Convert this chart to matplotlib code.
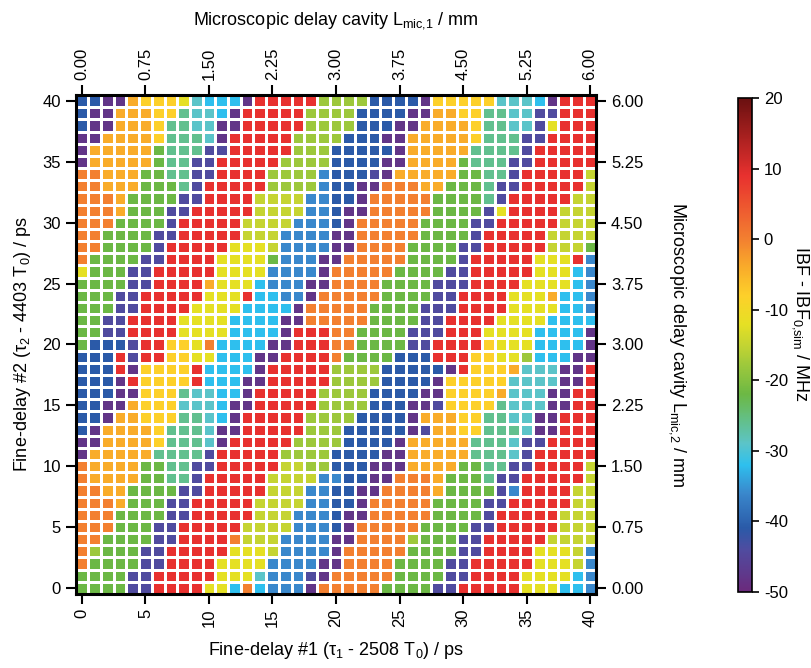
import numpy as np
import matplotlib.pyplot as plt
from matplotlib.colors import LinearSegmentedColormap, Normalize

plt.rcParams['font.family'] = ['Liberation Sans', 'DejaVu Sans']
plt.rcParams['mathtext.fontset'] = 'custom'
plt.rcParams['mathtext.rm'] = 'Liberation Sans'
plt.rcParams['mathtext.it'] = 'Liberation Sans:italic'
plt.rcParams['axes.unicode_minus'] = False

# =========================
# DATA
# =========================

# fine delay steps (ps)
tau1 = np.arange(0, 41)
tau2 = np.arange(0, 41)

# colour class -> IBF - IBF0,sim (MHz)
levels = {
    "P": -48, "V": -44, "B": -41, "M": -36, "C": -32, "T": -29, "Q": -26,
    "G": -22, "L": -18, "Y": -15, "E": -12, "Z": -8, "A": -4, "O": 0, "R": 9,
}

# one string per row, tau2 = 40 at the top down to tau2 = 0, columns tau1 = 0..40
rows = [
    "BBPPAZZZETCCCPRRRRRLLLLBBBBPZZZZZTTTCPRRR",
    "BPPAAAZZQTTCPRRRRRLLLLBBBBPPAAZZQQTTVVRRR",
    "BPPAAAZQQTTPPRRRRRLLLLBBBPPAAAAZQQTTVERRR",
    "PPAAAAZQQQTPRRRRRLLLLBBBPPAAAAAZQQQVVRRRR",
    "PAAAAAGQQQVVRRRRRLLLBBBBBPAAAAAQQQQVRRRRR",
    "PAAAAAGQQVVRRRRRLLLLBBBBPPAAAAGQQQVVRRRRR",
    "OOAAAGGQQVVRRRRLLLLMBBBVPAAAAAGGQQVRRRRRY",
    "OOAAAGGGQVRRRRRLLLLMBBPPOOOAAGGGQVVRRRRRY",
    "OOOAGGGGVVRRRRYYYYMMBBPOOOOOGGGGQVRRRRRYY",
    "OOOAGGGVVRRRRRYYYYMMBPPOOOOOGGGGVERRRRYYY",
    "OOOGGGGVRRRRRYYYYMMMBPOOOOOGGGGVVRRRRRYYY",
    "OOGGGGVVRRRRRYYYMMMMPPOOOOOGGGGVRRRRRYYYY",
    "OOGGGGVRRRRREEEYMMMMPPOOOOGGGGVVRRRRRYYYG",
    "OGGGGVVRRRREEEEGMMMPPOOOOOGGGGVRRRRREEERM",
    "EGGGVVRRRRREEEEMMMMPOOOOOGGGGVVRRRRREEECM",
    "GGGGVVRRRRAEEECMMMPPOOOOGGGGVVVRRRREEEECM",
    "GGGVVRRRRREEERCCMMPOOOOOGGGGVVRRRREEEACCM",
    "GGGVVRRRREEEECCCCPOOOOOGGGGVVVRRRREEEECCM",
    "GGVVRRRREEEECCCCPPOOOOOGGGGVVRRRREEEECCCC",
    "GGVVRRRREEEECCCCPRRROOGGGGVVVRRREEEECCCCP",
    "GBBBVRRZZEOCCCCPPRRROOGGGGVVRRRRZEEECCCCP",
    "BBBRVRRZZEECCCPPRRRROGGGGBBBRRRZZEELCCCPP",
    "BBBRPZZZZRCCCCPRRRRRLLLLBBBBBPRZZZATTTPPR",
    "BBBPRZZZZRCCCPPRRRRRLLLLBBBBPZZZZZTTTTPPR",
    "BBBPPZZZQTTCCPRRRRRLLLLBBBBPPZZZZATTTPPRR",
    "BBPPAZZZTTTCPPRRRRRLLLLBBBPPVZZZZQTTTPPRR",
    "BBPAAZZZQQTCPRRRRRLLLLBBBBPAAAZZQQTTPPRRR",
    "BPAAAAZQQQTPPRRRRRLLLBBBBBPVAAZZQQQTPPRRR",
    "PPAAAAZQQQTPRRRRRLLLLBBBBPAAAAAQQQTVVRRRR",
    "PAAAAAQQQQVRRRRRLLLLBBBBPPAAAAAQQQTVRRRRR",
    "OAAAAGGQQVVRRRRRYYLLBBBPPPAAAAGGQQVVRRRRY",
    "OAAAAGGQQVRRRRRYYYYMMBBPPOOOAGGGQVVRRRRRY",
    "OOAAGGGGVVRRRRRYYYMMBBPPOOOOAGGGGVMRRRRYY",
    "OOOAGGGVVRRRRRYYYYMMBBPOOOOOGGGGVVRRRRRYY",
    "OOOGGGGVVRRRRRYYYMMMBPPOOOOOGGGGVRRRRRYYY",
    "OOOGGGVVRRRRRYYYYMMMBPOOOOOGGGGVVRRRRRYYY",
    "OOGGGGVVRRRROYYYMMMMPPOOOOLGGGVVRRRRRYYYY",
    "OLGGGVVRRRRREEEYMMMMPOOOOOGGGGVVRRRREEEYM",
    "OGGGGVVRRRREEEEMMMMPPOOOOGGGGVVRRRRREEEYM",
    "GGGGVVRRRRREEETMMMVPOOOOOGGGGVVRRRREEEECM",
    "GGGGVVRRRREECOCMMMPOOOOOGGGGVVRRRRREEECCM",
]

# colour bar anchors (MHz -> colour)
cbar_values = [-50, -44, -41, -36, -32, -29, -26, -22, -18, -15, -12, -8, -4, 0, 9, 20]
cbar_colors = ["#6b2a7c", "#4f4ca0", "#2a5aa8", "#3a88cc", "#2ec0ee", "#5cc4c8",
               "#62c08e", "#6cb844", "#9cc83c", "#c4d432", "#e6e024", "#fdd02a",
               "#f9ac2a", "#f38030", "#e8312f", "#6a1010"]

# =========================
# BUILD GRID
# =========================

for r in rows:
    assert len(r) == 41, (r, len(r))

ibf = np.array([[levels[ch] for ch in r] for r in rows[::-1]], dtype=float)

vmin, vmax = -50, 20
pos = [(v - vmin) / (vmax - vmin) for v in cbar_values]
cmap = LinearSegmentedColormap.from_list("ibf", list(zip(pos, cbar_colors)), N=512)
norm = Normalize(vmin=vmin, vmax=vmax)

# =========================
# PLOT
# =========================

fig = plt.figure(figsize=(8.11, 6.68), dpi=100)
ax = fig.add_axes([0.0932, 0.1108, 0.6422, 0.7470])

xe = np.arange(-0.5, 41, 1.0)
ye = np.arange(-0.5, 41, 1.0)
mesh = ax.pcolormesh(xe, ye, ibf, cmap=cmap, norm=norm,
                     edgecolors="white", linewidth=0.75)

ax.set_xlim(-0.5, 40.5)
ax.set_ylim(-0.5, 40.5)
ax.set_xticks(np.arange(0, 41, 5))
ax.set_yticks(np.arange(0, 41, 5))
ax.tick_params(axis="x", labelrotation=90)
ax.tick_params(direction="out", length=7, width=1.5, labelsize=12)
for sp in ax.spines.values():
    sp.set_linewidth(2.2)

ax.set_xlabel(r"Fine-delay #1 (τ$_1$ - 2508 T$_0$) / ps", fontsize=13, labelpad=9)
ax.set_ylabel(r"Fine-delay #2 (τ$_2$ - 4403 T$_0$) / ps", fontsize=13, labelpad=7)

# microscopic delay cavity axes (0.15 mm per ps)
top = ax.secondary_xaxis("top", functions=(lambda x: x * 0.15, lambda x: x / 0.15))
top.set_xticks(np.arange(0, 6.01, 0.75))
top.set_xticklabels([f"{v:.2f}" for v in np.arange(0, 6.01, 0.75)], rotation=90)
top.tick_params(direction="out", length=7, width=1.5, labelsize=12)
top.set_xlabel(r"Microscopic delay cavity L$_{\mathrm{mic{,}1}}$ / mm", fontsize=13, labelpad=17)

right = ax.secondary_yaxis("right", functions=(lambda y: y * 0.15, lambda y: y / 0.15))
right.set_yticks(np.arange(0, 6.01, 0.75))
right.set_yticklabels([f"{v:.2f}" for v in np.arange(0, 6.01, 0.75)])
right.tick_params(direction="out", length=7, width=1.5, labelsize=12)
right.set_ylabel(r"Microscopic delay cavity L$_{\mathrm{mic{,}2}}$ / mm", fontsize=13,
                 rotation=270, labelpad=32)

# colour bar
cax = fig.add_axes([0.910, 0.1138, 0.0173, 0.7395])
cb = fig.colorbar(mesh, cax=cax)
cb.set_ticks(np.arange(-50, 21, 10))
cb.ax.tick_params(direction="out", length=5, width=1.2, labelsize=12)
cb.outline.set_linewidth(1.2)
fig.text(0.987, 0.515, r"IBF - IBF$_{\mathrm{0{,}sim}}$ / MHz", fontsize=13,
         rotation=270, ha="center", va="center")

fig.savefig("out.png", dpi=100)
